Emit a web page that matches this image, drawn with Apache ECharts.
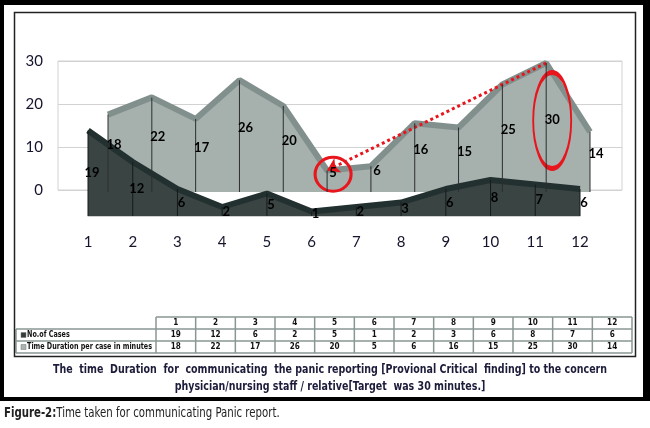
<!doctype html>
<html lang="en">
<head>
    <meta charset="utf-8">
    <title>Time taken for communicating Panic report</title>
    <script src="https://cdn.jsdelivr.net/npm/echarts@6.0.0/dist/echarts.min.js"></script>
    <style>
        html, body { margin: 0; padding: 0; background: #fff; }
        #main { width: 650px; height: 428px; }
    </style>
</head>
<body>
<div id="main"></div>
<script>
    // values
    const months = ['1', '2', '3', '4', '5', '6', '7', '8', '9', '10', '11', '12'];
    const noOfCases = [19, 12, 6, 2, 5, 1, 2, 3, 6, 8, 7, 6];
    const timeDuration = [18, 22, 17, 26, 20, 5, 6, 16, 15, 25, 30, 14];
    const rowNames = ['No.of Cases', 'Time Duration per case in minutes'];
    const captionLines = [
        'The  time  Duration  for  communicating  the panic reporting [Provional Critical  finding] to the concern',
        'physician/nursing staff / relative[Target  was 30 minutes.]'
    ];
    const figureLabel = 'Figure-2:';
    const figureText = 'Time taken for communicating Panic report.';

    const chartFont = "Lato, 'Liberation Sans', sans-serif";
    const narrowFont = "'Liberation Sans Narrow', 'DejaVu Sans Condensed', sans-serif";
    const red = '#e8161c';

    // lowest and highest durations get the red rings
    const lowIdx = timeDuration.indexOf(Math.min(...timeDuration));
    const highIdx = timeDuration.indexOf(Math.max(...timeDuration));

    // data table drawn under the chart
    const tbl = {left: 16, colStart: 156, right: 632, top: 317, rowH: 12};
    const colW = (tbl.right - tbl.colStart) / months.length;
    const tableRows = [noOfCases, timeDuration];
    const keyColors = ['#343d3c', '#aab4b1'];
    const borderStyle = {stroke: '#889794', lineWidth: 1.5};

    const tableElements = [];
    for (let r = 0; r <= 3; r++) {
        const y = tbl.top + r * tbl.rowH;
        tableElements.push({
            type: 'line',
            shape: {x1: r === 0 ? tbl.colStart : tbl.left, y1: y, x2: tbl.right, y2: y},
            style: borderStyle
        });
    }
    tableElements.push({
        type: 'line',
        shape: {x1: tbl.left, y1: tbl.top + tbl.rowH, x2: tbl.left, y2: tbl.top + 3 * tbl.rowH},
        style: borderStyle
    });
    for (let c = 0; c <= months.length; c++) {
        const x = tbl.colStart + c * colW;
        tableElements.push({
            type: 'line',
            shape: {x1: x, y1: tbl.top, x2: x, y2: tbl.top + 3 * tbl.rowH},
            style: borderStyle
        });
    }
    const cellText = (text, x, y) => ({
        type: 'text',
        x: x,
        y: y,
        scaleX: 0.9,
        style: {
            text: String(text),
            align: 'center',
            verticalAlign: 'middle',
            font: 'bold 9px ' + narrowFont,
            fill: '#111'
        }
    });
    months.forEach((m, c) => {
        const cx = tbl.colStart + (c + 0.5) * colW;
        tableElements.push(cellText(m, cx, tbl.top + tbl.rowH / 2));
        tableRows.forEach((row, r) => {
            tableElements.push(cellText(row[c], cx, tbl.top + (r + 1.5) * tbl.rowH));
        });
    });
    rowNames.forEach((name, r) => {
        const cy = tbl.top + (r + 1.5) * tbl.rowH;
        tableElements.push({
            type: 'rect',
            shape: {x: 21, y: cy - 2.5, width: 5, height: 5},
            style: {fill: keyColors[r], stroke: '#777', lineWidth: 0.5}
        });
        tableElements.push({
            type: 'text',
            x: 27,
            y: cy,
            scaleX: 0.84,
            style: {
                text: name,
                align: 'left',
                verticalAlign: 'middle',
                font: 'bold 8.5px ' + narrowFont,
                fill: '#111'
            }
        });
    });

    // black picture frame, inner border and captions
    const frameElements = [
        {type: 'rect', shape: {x: 0, y: 0, width: 650, height: 5}, style: {fill: '#000'}},
        {type: 'rect', shape: {x: 0, y: 0, width: 4, height: 401}, style: {fill: '#000'}},
        {type: 'rect', shape: {x: 643, y: 0, width: 7, height: 401}, style: {fill: '#000'}},
        {type: 'rect', shape: {x: 0, y: 397, width: 650, height: 4}, style: {fill: '#000'}},
        {
            type: 'rect',
            shape: {x: 14.5, y: 12.5, width: 621, height: 344},
            style: {fill: 'none', stroke: '#222', lineWidth: 1.5}
        }
    ];
    captionLines.forEach((line, i) => {
        frameElements.push({
            type: 'text',
            x: 330,
            y: 370 + i * 17,
            scaleX: 0.88,
            style: {
                text: line,
                align: 'center',
                verticalAlign: 'middle',
                font: 'bold 12px ' + narrowFont,
                fill: '#1c1c3a'
            }
        });
    });
    frameElements.push({
        type: 'text',
        x: 4,
        y: 413,
        scaleX: 0.78,
        style: {
            text: '{b|' + figureLabel + '}{n|' + figureText + '}',
            verticalAlign: 'middle',
            rich: {
                b: {fontFamily: narrowFont, fontWeight: 'bold', fontSize: 14.5, fill: '#222'},
                n: {fontFamily: narrowFont, fontSize: 14.5, fill: '#222'}
            }
        }
    });

    const hiddenValueAxis = (gridIndex) => ({
        gridIndex: gridIndex, type: 'value', min: 0, max: 30, interval: 10, show: false
    });
    const dataLabel = (offset) => ({
        show: true,
        position: 'inside',
        offset: offset,
        color: '#000',
        fontFamily: chartFont,
        fontWeight: 'bold',
        fontSize: 13
    });

    const option = {
        animation: false,
        backgroundColor: '#fff',
        textStyle: {fontFamily: chartFont},
        grid: [
            // outline box with the gridlines
            {left: 58, right: 28, top: 61, height: 129, show: true, borderColor: '#d2d2d2', borderWidth: 1,
                backgroundColor: 'transparent', outerBoundsMode: 'none'},
            // back row: time duration
            {left: 108, right: 60, top: 63, height: 129, outerBoundsMode: 'none'},
            // front row: number of cases
            {left: 88, right: 70, top: 81, height: 135, outerBoundsMode: 'none'}
        ],
        xAxis: [
            {gridIndex: 0, type: 'category', data: months, show: false},
            {gridIndex: 1, type: 'category', data: months, boundaryGap: false, show: false},
            {
                gridIndex: 2, type: 'category', data: months, boundaryGap: false,
                axisLine: {lineStyle: {color: '#cfcfcf'}},
                axisTick: {show: false},
                axisLabel: {margin: 19, fontSize: 15, color: '#14142c'}
            }
        ],
        yAxis: [
            {
                gridIndex: 0, type: 'value', min: 0, max: 30, interval: 10,
                axisLine: {show: false},
                axisTick: {show: false},
                axisLabel: {margin: 15, fontSize: 15, color: '#14142c'},
                splitLine: {lineStyle: {color: '#d2d2d2'}}
            },
            hiddenValueAxis(1),
            hiddenValueAxis(2)
        ],
        series: [
            {
                name: rowNames[1],
                type: 'line',
                xAxisIndex: 1,
                yAxisIndex: 1,
                data: timeDuration,
                symbol: 'none',
                lineStyle: {color: '#82908d', width: 6},
                areaStyle: {color: '#a6b1ae', opacity: 1},
                z: 2,
                silent: true
            },
            {
                name: rowNames[0],
                type: 'line',
                xAxisIndex: 2,
                yAxisIndex: 2,
                data: noOfCases,
                symbol: 'none',
                lineStyle: {color: '#233030', width: 6},
                areaStyle: {color: '#3a4443', opacity: 1},
                z: 4,
                silent: true
            },
            {
                type: 'bar',
                xAxisIndex: 2,
                yAxisIndex: 2,
                data: noOfCases,
                barWidth: 1,
                itemStyle: {color: '#161b1a'},
                label: dataLabel([4, 0]),
                z: 5,
                silent: true
            },
            {
                // dividers and labels of the back row, kept above the front row
                type: 'bar',
                xAxisIndex: 1,
                yAxisIndex: 1,
                data: timeDuration,
                barWidth: 1,
                itemStyle: {color: '#2a2f2e'},
                label: dataLabel([6, -8]),
                z: 6,
                silent: true
            },
            {
                // red rings and dotted arrow
                type: 'line',
                xAxisIndex: 1,
                yAxisIndex: 1,
                data: timeDuration,
                symbol: 'none',
                lineStyle: {opacity: 0},
                z: 8,
                silent: true,
                markPoint: {
                    symbol: 'circle',
                    symbolOffset: [6, -7],
                    itemStyle: {color: 'rgba(0,0,0,0)', borderColor: red, borderWidth: 3},
                    label: {show: false},
                    data: [
                        {coord: [months[lowIdx], timeDuration[lowIdx] / 2], symbolSize: [36, 34]},
                        {coord: [months[highIdx], timeDuration[highIdx] / 2], symbolSize: [38, 96]}
                    ]
                },
                markLine: {
                    symbol: ['none', 'arrow'],
                    symbolSize: 12,
                    label: {show: false},
                    lineStyle: {color: red, width: 3, type: [3, 3]},
                    data: [[
                        {coord: [months[highIdx], timeDuration[highIdx]]},
                        {coord: [months[lowIdx], timeDuration[lowIdx]]}
                    ]]
                }
            }
        ],
        graphic: {elements: tableElements.concat(frameElements)}
    };

    const myChart = echarts.init(document.getElementById('main'));
    myChart.setOption(option);
</script>
</body>
</html>
